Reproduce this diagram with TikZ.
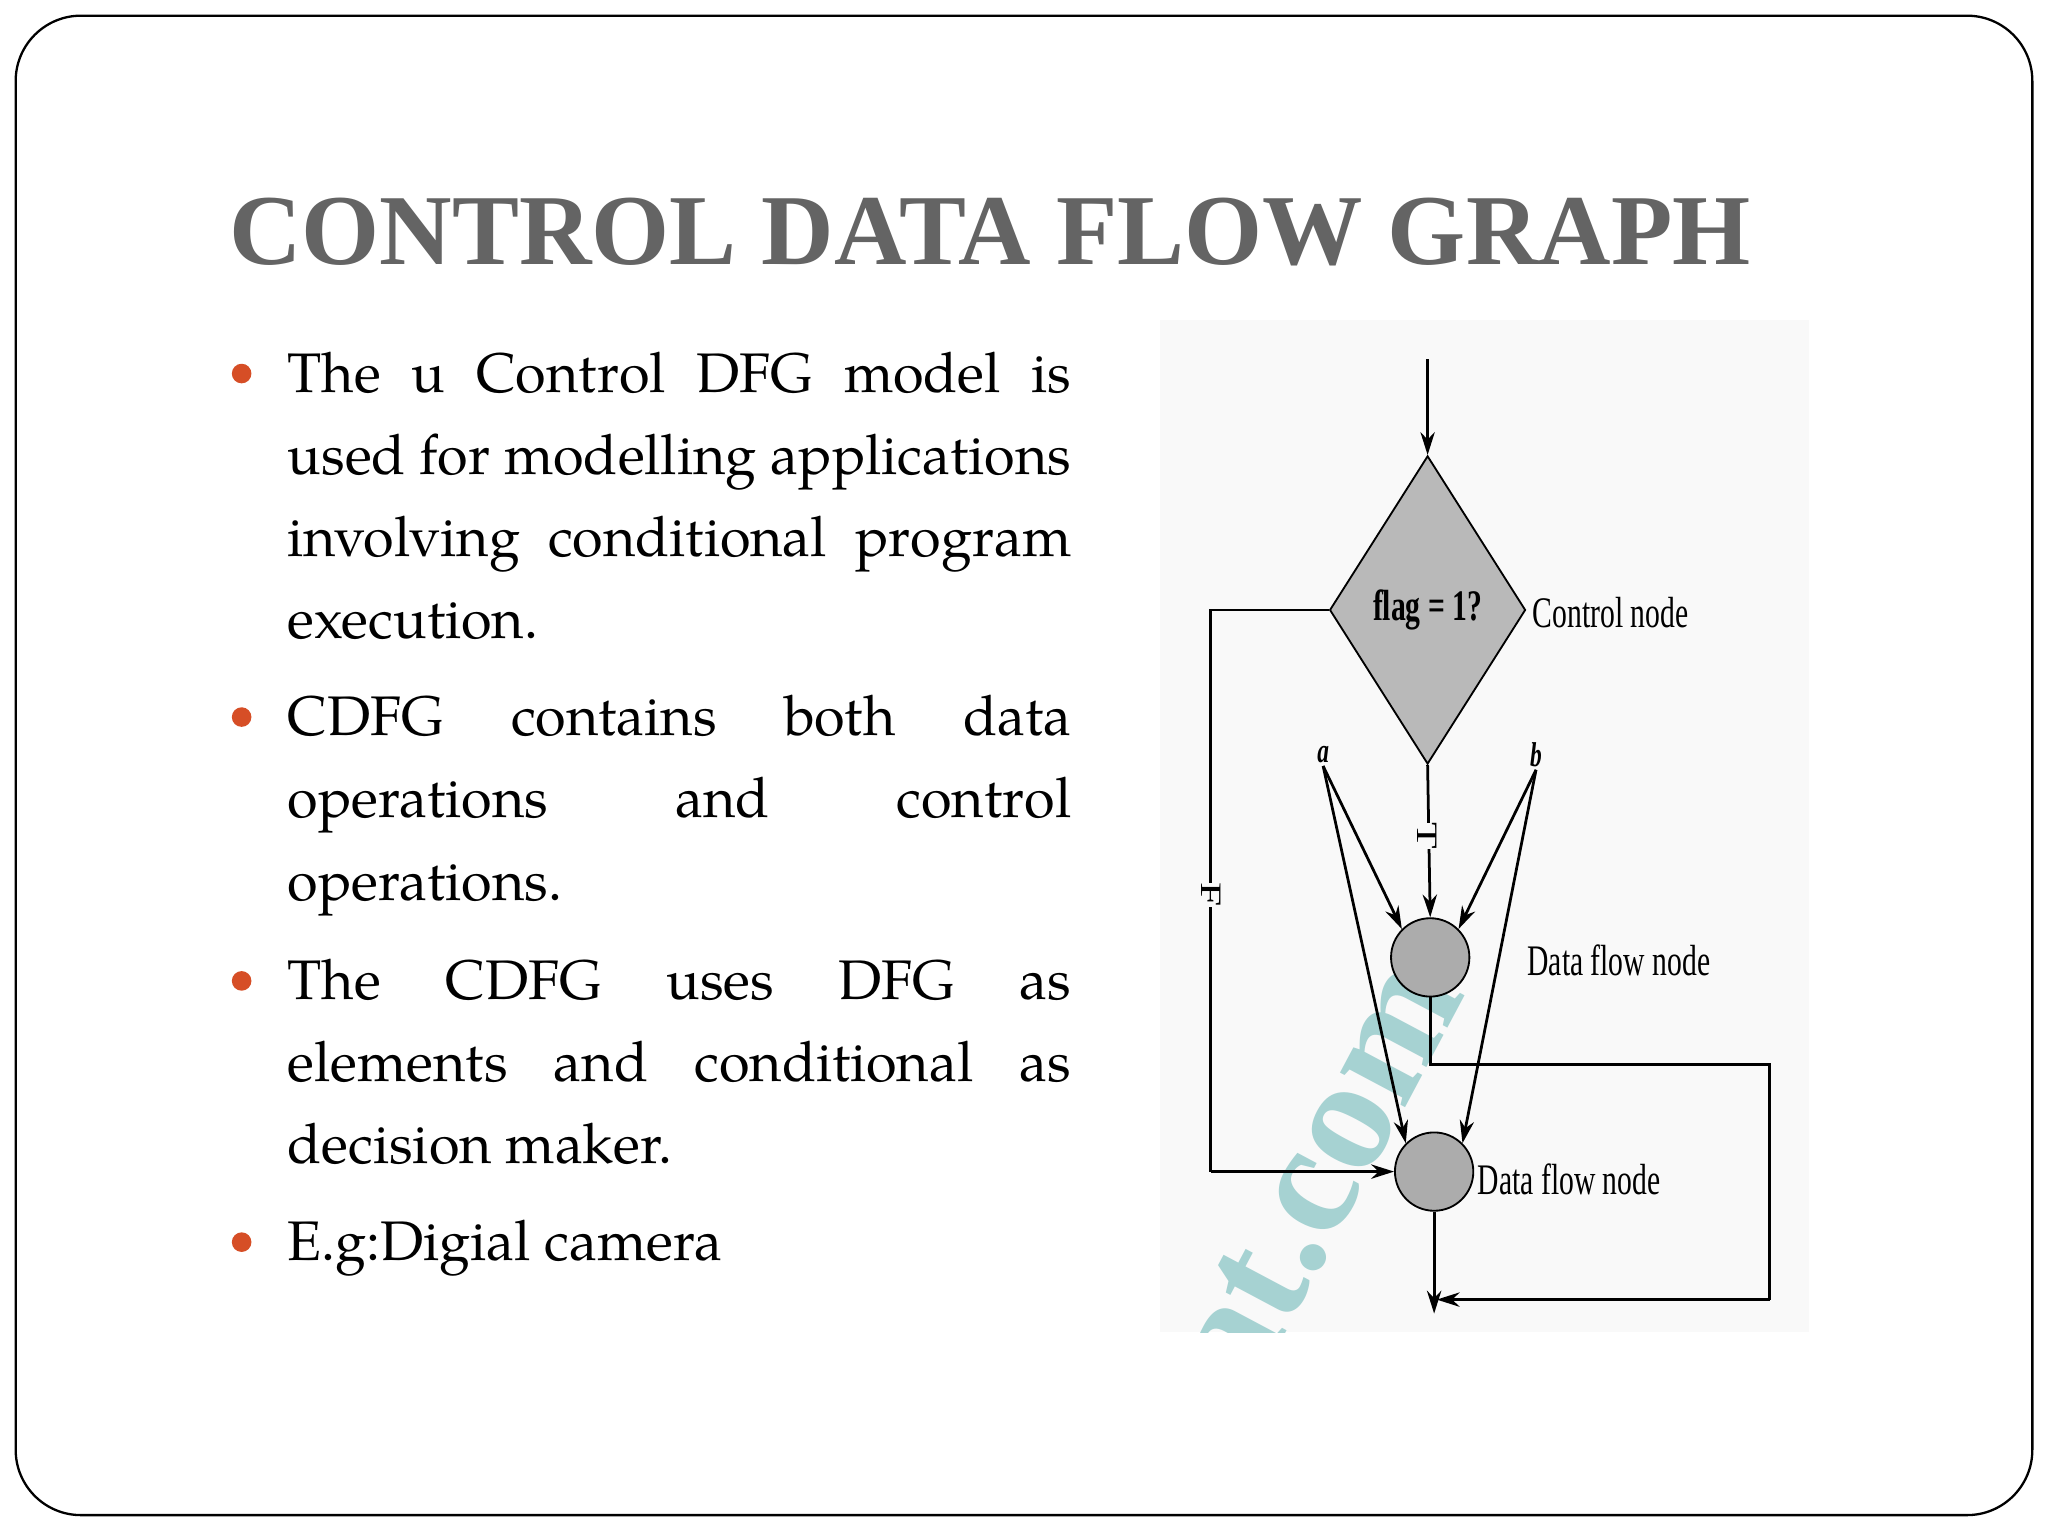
\documentclass[tikz,border=0pt]{standalone}
\usepackage{fontspec}
\usepackage{graphicx}
\setmainfont{Liberation Serif}
\newfontfamily\bodyf{TeX Gyre Pagella}
\usetikzlibrary{shapes.geometric,arrows.meta}
\definecolor{bul}{RGB}{214,78,38}
\definecolor{ttl}{RGB}{100,100,100}
\newcommand{\jl}[1]{\makebox[12cm][s]{#1}}
\begin{document}
\begin{tikzpicture}[x=0.02cm,y=-0.02cm,
 para/.style={anchor=north west,inner sep=0pt,align=left,font=\bodyf\fontsize{24.3}{35.8}\selectfont},
 dot/.style={circle,fill=bul,inner sep=0pt,minimum size=0.3cm},
 lbl/.style={font=\fontsize{19}{20}\selectfont,xscale=0.68,inner sep=1pt},
 arr/.style={-{Stealth[length=0.35cm,width=0.22cm]},line width=1.2pt},
 ln/.style={line width=1.2pt},
 dfn/.style={circle,draw,line width=0.8pt,fill=gray!65,minimum size=1.2cm,inner sep=0pt}]
\useasboundingbox (0,0) rectangle (1568,1176);
\fill[white] (0,0) rectangle (1568,1176);
\draw[line width=1pt,rounded corners=1cm] (12,12) rectangle (1556,1160);
\node[anchor=west,inner sep=0pt,text=ttl] (title) at (175,178) {\resizebox{23.3cm}{!}{\bfseries CONTROL DATA FLOW GRAPH}};
% bullets
\node[dot] (d1) at (185,286) {};
\node[para] (p1) at (220,269) {\jl{The u Control DFG model is}\\\jl{used for modelling applications}\\\jl{involving conditional program}\\execution.};
\node[dot] (d2) at (185,549) {};
\node[para] (p2) at (220,532) {\jl{CDFG contains both data}\\\jl{operations and control}\\operations.};
\node[dot] (d3) at (185,751) {};
\node[para] (p3) at (220,734) {\jl{The CDFG uses DFG as}\\\jl{elements and conditional as}\\decision maker.};
\node[dot] (d4) at (185,951) {};
\node[para] (p4) at (220,934) {E.g:Digial camera};
% diagram
\fill[gray!5] (888,245) rectangle (1385,1020);
\begin{scope}
\clip (888,245) rectangle (1385,1020);
\node[rotate=62,text=teal!35,font=\bfseries\fontsize{70}{70}\selectfont] (wm) at (1010,900) {at.com};
\end{scope}
\node[diamond,draw,line width=0.8pt,fill=gray!55,minimum width=3cm,minimum height=4.72cm,inner sep=0pt,aspect=0.64] (dia) at (1093,467) {};
\node[lbl] (flag) at (1093,467) {\bfseries flag = 1?};
\coordinate (top) at (1093,275);
\draw[arr] (top) -- (dia.north);
\node[lbl,anchor=west] (cn) at (1172,469) {Control node};
\node[dfn] (c1) at (1095,733) {};
\node[dfn] (c2) at (1098,897) {};
\node[lbl,font=\itshape\bfseries\fontsize{15}{15}\selectfont] (a) at (1013,578) {a};
\node[lbl,font=\itshape\bfseries\fontsize{15}{15}\selectfont] (b) at (1176,578) {b};
\node[lbl,anchor=west] (l1) at (1168,735) {Data flow node};
\node[lbl,anchor=west] (l2) at (1130,903) {Data flow node};
\coordinate (f1) at (927,467);
\coordinate (f2) at (927,897);
\draw[ln] (dia.west) -- (f1) -- (f2);
\draw[arr] (f2) -- (c2.west);
\node[lbl,rotate=-90,fill=gray!5,inner sep=0pt] (F) at (927,685) {F};
\draw[arr] (dia.south) -- (c1.north);
\node[lbl,rotate=-90,fill=gray!5,inner sep=0pt] (T) at (1093,640) {T};
\draw[arr] (a.south) -- (c1.north west);
\draw[arr] (a.south) -- (c2.north west);
\draw[arr] (b.south) -- (c1.north east);
\draw[arr] (b.south) -- (c2.north east);
\coordinate (r1) at (1095,815);
\coordinate (r2) at (1355,815);
\coordinate (r3) at (1355,995);
\coordinate (r4) at (1100,995);
\draw[ln] (c1.south) -- (r1) -- (r2) -- (r3);
\draw[arr] (r3) -- (r4);
\draw[arr] (c2.south) -- ++(0,78);
\end{tikzpicture}
\end{document}
